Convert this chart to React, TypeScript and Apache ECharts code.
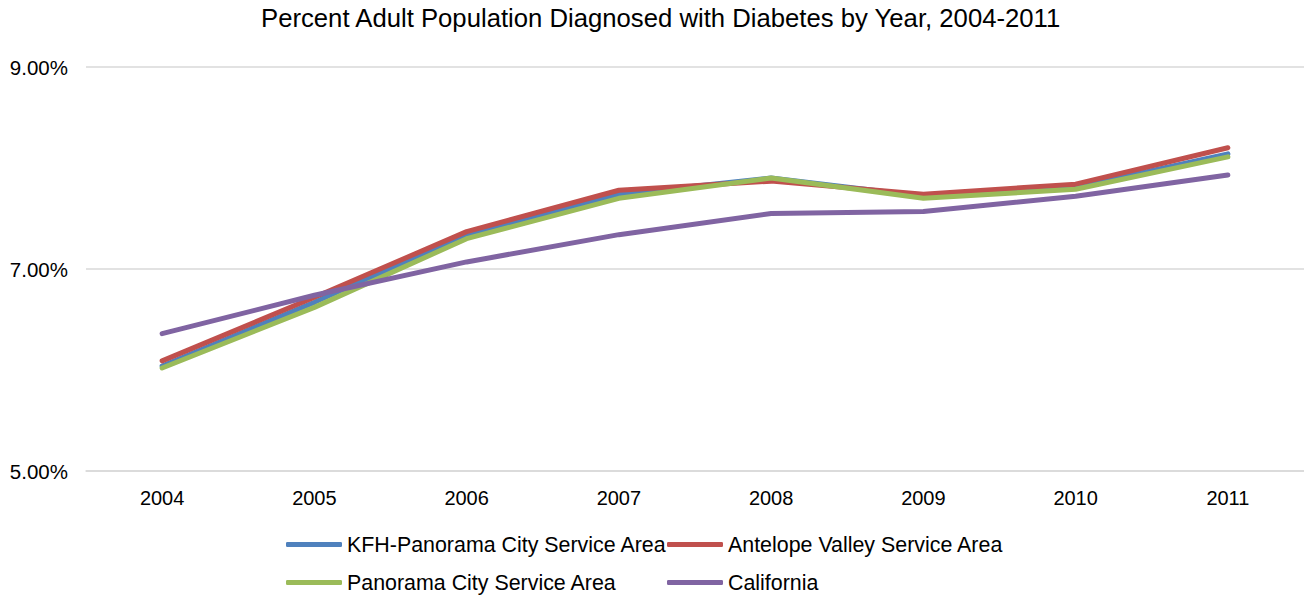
import React, { useEffect, useRef } from "react";
import * as echarts from "echarts";

const years = ["2004", "2005", "2006", "2007", "2008", "2009", "2010", "2011"];
const kfhPanorama = [6.04, 6.67, 7.34, 7.74, 7.9, 7.72, 7.81, 8.14];
const antelopeValley = [6.09, 6.72, 7.37, 7.78, 7.87, 7.74, 7.84, 8.2];
const panoramaCity = [6.02, 6.62, 7.3, 7.7, 7.9, 7.7, 7.79, 8.11];
const california = [6.36, 6.74, 7.07, 7.34, 7.55, 7.57, 7.72, 7.93];

const seriesNames = [
  "KFH-Panorama City Service Area",
  "Antelope Valley Service Area",
  "Panorama City Service Area",
  "California",
];
const seriesColors = ["#4F81BD", "#C0504D", "#9BBB59", "#8064A2"];
const seriesData = [kfhPanorama, antelopeValley, panoramaCity, california];

const FONT = "'Liberation Sans', Arial, sans-serif";

export default function App() {
  const ref = useRef<HTMLDivElement>(null);
  useEffect(() => {
    document.body.style.margin = "0";
    if (!ref.current) return;
    const chart = echarts.init(ref.current, null, { renderer: "svg" });
    const legendPos = [
      { left: 286, top: 534 },
      { left: 667, top: 534 },
      { left: 286, top: 572 },
      { left: 667, top: 572 },
    ];
    chart.setOption({
      animation: false,
      backgroundColor: "#ffffff",
      textStyle: { fontFamily: FONT },
      title: {
        text: "Percent Adult Population Diagnosed with Diabetes by Year, 2004-2011",
        left: 261,
        top: 5,
        padding: 0,
        textStyle: { fontSize: 25.7, fontWeight: "normal", color: "#000", fontFamily: FONT },
      },
      legend: seriesNames.map((n, i) => ({
        data: [n],
        left: legendPos[i].left,
        top: legendPos[i].top,
        padding: 0,
        icon: "roundRect",
        itemWidth: 56,
        itemHeight: 5,
        textStyle: { fontSize: 21.4, color: "#000", fontFamily: FONT },
      })),
      grid: { left: 86, right: 0, top: 67, bottom: 125, containLabel: false },
      xAxis: {
        type: "category",
        data: years,
        boundaryGap: true,
        axisLine: { show: true, lineStyle: { color: "#d9d9d9", width: 1.5 } },
        axisTick: { show: false },
        axisLabel: { fontSize: 20, color: "#000", margin: 17, fontFamily: FONT },
      },
      yAxis: {
        type: "value",
        min: 5,
        max: 9,
        interval: 2,
        axisLine: { show: false },
        axisTick: { show: false },
        splitLine: { lineStyle: { color: "#d9d9d9", width: 1.5 } },
        axisLabel: {
          fontSize: 20.5,
          color: "#000",
          margin: 18,
          fontFamily: FONT,
          formatter: (v: number) => v.toFixed(2) + "%",
        },
      },
      series: seriesNames.map((n, i) => ({
        name: n,
        type: "line",
        data: seriesData[i],
        symbol: "none",
        color: seriesColors[i],
        itemStyle: { color: seriesColors[i] },
        lineStyle: { width: 5, color: seriesColors[i], cap: "round", join: "round" },
      })),
    });
    return () => chart.dispose();
  }, []);
  return <div ref={ref} style={{ width: 1304, height: 596 }} />;
}
